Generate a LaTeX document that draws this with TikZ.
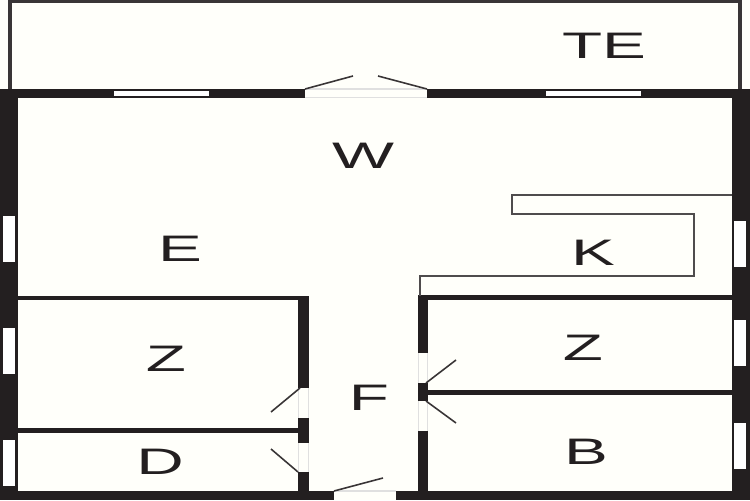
\documentclass[tikz,border=0pt]{standalone}
\usepackage{fontspec}
\setmainfont{Liberation Sans}
\definecolor{paper}{HTML}{FFFFFA}
\definecolor{wall}{HTML}{231F20}
\begin{document}
\begin{tikzpicture}[x=0.02cm,y=-0.02cm,
    wallpart/.style={fill=wall,draw=none},
    windowpart/.style={fill=white,draw=none},
    thinline/.style={draw=wall!80,line width=1.2pt},
    leaf/.style={draw=wall!90,line width=0.9pt},
    jamb/.style={draw=black!12,line width=0.6pt},
    roomlabel/.style={font=\fontsize{21}{21}\selectfont,text=wall,xscale=1.78,inner sep=0pt},
  ]
  \useasboundingbox (0,0) rectangle (750,500);
  \fill[paper] (0,0) rectangle (750,500);
  % terrace
  \draw[wall!90,line width=1.9pt] (10,89) -- (10,1.5) -- (740,1.5) -- (740,89);
  % outer walls
  \fill[wallpart] (0,89) rectangle (750,98);
  \fill[wallpart] (0,89) rectangle (18,500);
  \fill[wallpart] (732,89) rectangle (750,500);
  \fill[wallpart] (0,491) rectangle (750,500);
  % inner walls left
  \fill[wallpart] (18,296) rectangle (309,300);
  \fill[wallpart] (298,296) rectangle (309,388);
  \fill[wallpart] (298,418) rectangle (309,443);
  \fill[wallpart] (298,472) rectangle (309,491);
  \fill[wallpart] (18,428) rectangle (298,433);
  % inner walls right
  \fill[wallpart] (418,295) rectangle (732,300);
  \fill[wallpart] (418,295) rectangle (428,353);
  \fill[wallpart] (418,383) rectangle (428,401);
  \fill[wallpart] (418,431) rectangle (428,491);
  \fill[wallpart] (428,390) rectangle (732,395);
  % windows
  \foreach \a/\b in {114/209,546/641}
    \fill[windowpart] (\a,91) rectangle (\b,96);
  \foreach \a in {216,328,440}
    \fill[windowpart] (3,\a) rectangle (15,\a+46);
  \foreach \a in {221,320,423}
    \fill[windowpart] (734,\a) rectangle (746,\a+46);
  % door openings
  \fill[paper] (305,89) rectangle (427,98);
  \fill[paper] (334,491) rectangle (396,500);
  \draw[jamb] (305,89) -- (427,89) (305,97.5) -- (427,97.5);
  \draw[jamb] (334,491) -- (396,491);
  \foreach \x in {298.5,308.5} {
    \draw[jamb] (\x,388) -- (\x,418);
    \draw[jamb] (\x,443) -- (\x,472);
  }
  \foreach \x in {418.5,427.5} {
    \draw[jamb] (\x,353) -- (\x,383);
    \draw[jamb] (\x,401) -- (\x,431);
  }
  % door leaves
  \draw[leaf] (305,89) -- (353,76);
  \draw[leaf] (378,76) -- (427,89);
  \draw[leaf] (300,388) -- (271,412);
  \draw[leaf] (298,472) -- (271,449);
  \draw[leaf] (426,383) -- (456,360);
  \draw[leaf] (426,401) -- (456,423);
  \draw[leaf] (334,491) -- (383,478);
  % kitchen
  \draw[thinline] (732,195) -- (512,195) -- (512,214) -- (694,214) -- (694,276) -- (420,276) -- (420,296);
  % rooms
  \node[roomlabel] (te) at (604,46) {TE};
  \node[roomlabel] (w) at (363,156) {W};
  \node[roomlabel] (e) at (180,249) {E};
  \node[roomlabel] (k) at (593,253) {K};
  \node[roomlabel] (z1) at (166,359) {Z};
  \node[roomlabel] (z2) at (583,348) {Z};
  \node[roomlabel] (f) at (369,398) {F};
  \node[roomlabel] (d) at (160,462) {D};
  \node[roomlabel] (b) at (586,452) {B};
\end{tikzpicture}
\end{document}
